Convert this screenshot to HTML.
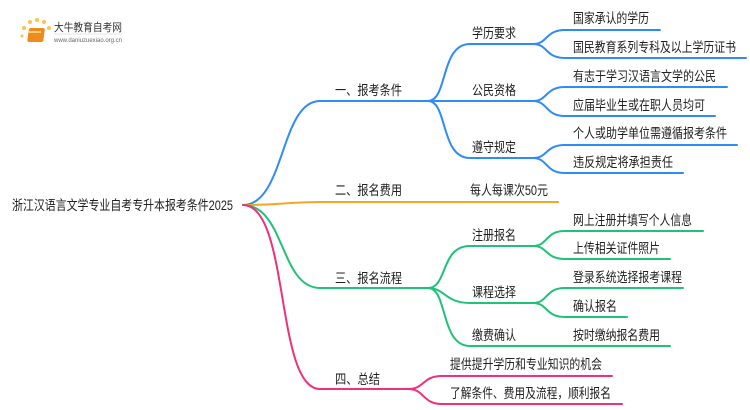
<!DOCTYPE html>
<html><head><meta charset="utf-8"><style>
html,body{margin:0;padding:0;background:#fff;width:750px;height:410px;overflow:hidden}
svg text{font-family:"Liberation Sans","Noto Sans CJK SC",sans-serif;font-size:13.5px;fill:#222}
</style></head><body>
<svg width="750" height="410" viewBox="0 0 750 410" xmlns="http://www.w3.org/2000/svg">
<g>
<circle cx="24" cy="28" r="2" fill="#f7c64a"/><circle cx="30" cy="22" r="2" fill="#f7c64a"/><circle cx="37" cy="20" r="2" fill="#f7c64a"/><circle cx="44" cy="22" r="2" fill="#f7c64a"/><circle cx="49" cy="28" r="2" fill="#f7c64a"/><circle cx="22" cy="36" r="1.5" fill="#f7c64a"/>
<rect x="33" y="28" width="16" height="14" rx="2" fill="#f08a1c" transform="skewX(-8)"/>
<rect x="29" y="31" width="12" height="2" fill="#ffd27a"/>
<text x="54" y="31" style="font-size:11px;fill:#333" textLength="68" lengthAdjust="spacingAndGlyphs">大牛教育自考网</text>
<line x1="54" y1="34" x2="122" y2="34" stroke="#ccc" stroke-width="0.5"/>
<text x="54" y="42" style="font-size:6px;fill:#666" textLength="68" lengthAdjust="spacingAndGlyphs">www.daniuzuexiao.org.cn</text>
</g>
<g fill="none" stroke-width="2" stroke-linecap="round">
<g stroke="#2f8cf4">
<path d="M243,205 C285,205 280,101 320,101 L428,101"/>
<path d="M428,101 C448,101 440,44 470,44 L533,44"/>
<path d="M428,101 L533,101"/>
<path d="M428,101 C448,101 440,158 470,158 L533,158"/>
<path d="M533,44 C548,44 545,30 565,30 L660,30"/>
<path d="M533,44 C548,44 545,58 565,58 L746,58"/>
<path d="M533,101 C548,101 545,87 565,87 L727,87"/>
<path d="M533,101 C548,101 545,116 565,116 L715,116"/>
<path d="M533,158 C548,158 545,145 565,145 L737,145"/>
<path d="M533,158 C548,158 545,173 565,173 L683,173"/>
</g>
<path stroke="#f5a623" d="M243,205 C280,205 290,202 320,202 L558,202"/>
<g stroke="#1fc277">
<path d="M243,205 C285,205 280,288 320,288 L428,288"/>
<path d="M428,288 C448,288 440,246 470,246 L533,246"/>
<path d="M428,288 C445,288 445,303 470,303 L533,303"/>
<path d="M428,288 C448,288 440,346 470,346 L670,346"/>
<path d="M533,246 C548,246 545,231 565,231 L703,231"/>
<path d="M533,246 C548,246 545,259 565,259 L670,259"/>
<path d="M533,303 C548,303 545,288 565,288 L683,288"/>
<path d="M533,303 C548,303 545,317 565,317 L627,317"/>
</g>
<g stroke="#f02f7d">
<path d="M243,205 C290,205 275,389 320,389 L408,389"/>
<path d="M408,389 C425,389 422,376 442,376 L612,376"/>
<path d="M408,389 C425,389 422,404 442,404 L622,404"/>
</g>
</g>
<g lengthAdjust="spacingAndGlyphs">
<text x="12" y="210" textLength="221" lengthAdjust="spacingAndGlyphs">浙江汉语言文学专业自考专升本报考条件2025</text>
<text x="335" y="95" textLength="67" lengthAdjust="spacingAndGlyphs">一、报考条件</text>
<text x="335" y="195" textLength="67" lengthAdjust="spacingAndGlyphs">二、报名费用</text>
<text x="335" y="283" textLength="67" lengthAdjust="spacingAndGlyphs">三、报名流程</text>
<text x="335" y="384" textLength="45" lengthAdjust="spacingAndGlyphs">四、总结</text>
<text x="472" y="38" textLength="44" lengthAdjust="spacingAndGlyphs">学历要求</text>
<text x="472" y="95" textLength="44" lengthAdjust="spacingAndGlyphs">公民资格</text>
<text x="472" y="152" textLength="44" lengthAdjust="spacingAndGlyphs">遵守规定</text>
<text x="470" y="195" textLength="78" lengthAdjust="spacingAndGlyphs">每人每课次50元</text>
<text x="472" y="240" textLength="44" lengthAdjust="spacingAndGlyphs">注册报名</text>
<text x="472" y="297" textLength="44" lengthAdjust="spacingAndGlyphs">课程选择</text>
<text x="472" y="340" textLength="44" lengthAdjust="spacingAndGlyphs">缴费确认</text>
<text x="573" y="23" textLength="76" lengthAdjust="spacingAndGlyphs">国家承认的学历</text>
<text x="573" y="52" textLength="163" lengthAdjust="spacingAndGlyphs">国民教育系列专科及以上学历证书</text>
<text x="573" y="81" textLength="143" lengthAdjust="spacingAndGlyphs">有志于学习汉语言文学的公民</text>
<text x="573" y="110" textLength="132" lengthAdjust="spacingAndGlyphs">应届毕业生或在职人员均可</text>
<text x="573" y="138" textLength="154" lengthAdjust="spacingAndGlyphs">个人或助学单位需遵循报考条件</text>
<text x="573" y="167" textLength="100" lengthAdjust="spacingAndGlyphs">违反规定将承担责任</text>
<text x="573" y="225" textLength="119" lengthAdjust="spacingAndGlyphs">网上注册并填写个人信息</text>
<text x="573" y="253" textLength="87" lengthAdjust="spacingAndGlyphs">上传相关证件照片</text>
<text x="573" y="282" textLength="109" lengthAdjust="spacingAndGlyphs">登录系统选择报考课程</text>
<text x="573" y="311" textLength="44" lengthAdjust="spacingAndGlyphs">确认报名</text>
<text x="573" y="340" textLength="87" lengthAdjust="spacingAndGlyphs">按时缴纳报名费用</text>
<text x="450" y="369" textLength="152" lengthAdjust="spacingAndGlyphs">提供提升学历和专业知识的机会</text>
<text x="450" y="398" textLength="161" lengthAdjust="spacingAndGlyphs">了解条件、费用及流程，顺利报名</text>
</g>
</svg>
</body></html>
